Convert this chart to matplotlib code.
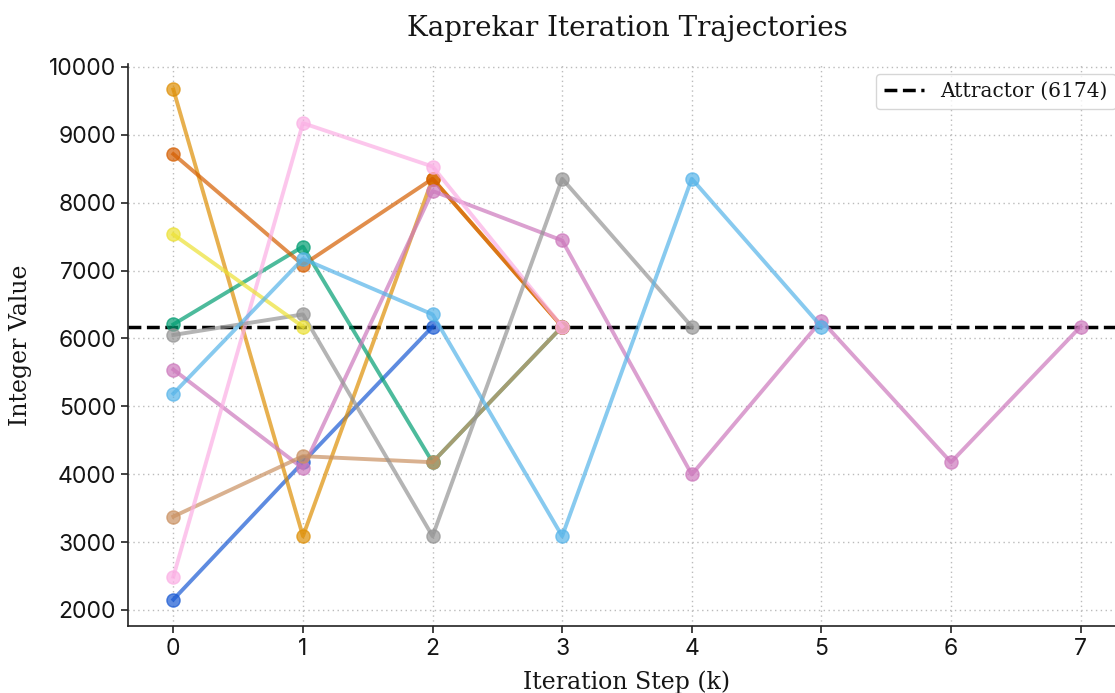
import matplotlib
matplotlib.use("Agg")
import matplotlib.pyplot as plt

# Kaprekar trajectories
traj_blue = [2154, 4176, 6174]
traj_orange = [9667, 3087, 8352, 6174]
traj_green = [6207, 7353, 4176, 6174]
traj_red = [8716, 7083, 8352, 6174]
traj_purple = [5541, 4086, 8172, 7443, 3996, 6264, 4176, 6174]
traj_brown = [3376, 4266, 4176, 6174]
traj_pink = [2490, 9171, 8532, 6174]
traj_gray = [6051, 6354, 3087, 8352, 6174]
traj_yellow = [7531, 6174]
traj_lightblue = [5187, 7173, 6354, 3087, 8352, 6174]

trajectories = [traj_blue, traj_orange, traj_green, traj_red, traj_purple,
                traj_brown, traj_pink, traj_gray, traj_yellow, traj_lightblue]
colors = ["#1a5ad3", "#de8f05", "#029e73", "#d55e00", "#cc78bc",
          "#ca9161", "#fbafe4", "#949494", "#ece133", "#56b4e9"]
attractor = 6174
x_ticks = list(range(8))
y_ticks = [2000, 3000, 4000, 5000, 6000, 7000, 8000, 9000, 10000]

serif = ["DejaVu Serif"]
tick_font = "Inter"
txt = "#151515"

fig = plt.figure(figsize=(11.15, 6.93), dpi=100)
ax = fig.add_axes([0.1148, 0.0967, 0.895, 0.811])

for traj, c in zip(trajectories, colors):
    ax.plot(range(len(traj)), traj, color=c, marker="o", linewidth=2.8,
            markersize=9.5, alpha=0.7)

ax.axhline(attractor, color="black", linestyle="--", linewidth=2.5,
           label=f"Attractor ({attractor})", zorder=1.5)

ax.set_xticks(x_ticks)
ax.set_yticks(y_ticks)
ax.set_ylim(1764, 10043)
ax.set_xlim(-0.35, 7.35)
ax.grid(True, linestyle=(0, (1, 2.5)), color="#bbbbbb", linewidth=1.0)
ax.set_axisbelow(True)
for s in ["top", "right"]:
    ax.spines[s].set_visible(False)
for s in ["left", "bottom"]:
    ax.spines[s].set_color("#222222")
    ax.spines[s].set_linewidth(1.2)
ax.tick_params(axis="both", length=5, width=1.2, color="#222222")
for lab in ax.get_xticklabels() + ax.get_yticklabels():
    lab.set_fontfamily(tick_font)
    lab.set_fontsize(16.5)
    lab.set_color(txt)

ax.set_title("Kaprekar Iteration Trajectories", family=serif, fontsize=20,
             pad=20, color=txt)
ax.set_xlabel("Iteration Step (k)", family=serif, fontsize=17, color=txt,
              labelpad=8)
ax.set_ylabel("Integer Value", family=serif, fontsize=17, color=txt,
              labelpad=12)
leg = ax.legend(loc="upper right", prop={"family": serif, "size": 14.5},
                frameon=True, fancybox=True, borderaxespad=0.5,
                bbox_to_anchor=(1.0, 1.0))
leg.get_frame().set_edgecolor("#cccccc")
for t in leg.get_texts():
    t.set_color(txt)

fig.savefig("out.png", dpi=100)
